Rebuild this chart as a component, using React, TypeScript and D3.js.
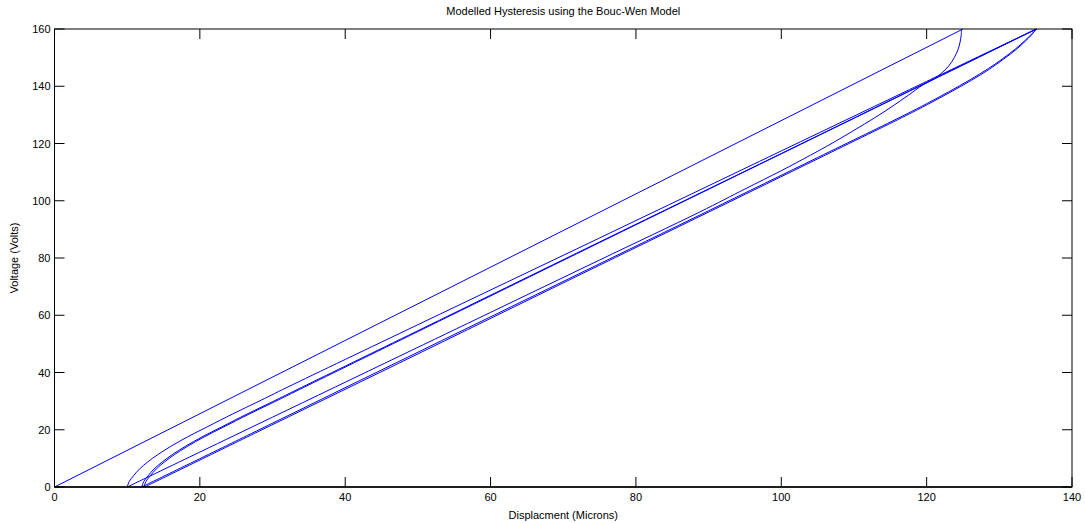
import React from "react";
import * as d3 from "d3";

const TITLE = "Modelled Hysteresis using the Bouc-Wen Model";
const X_LABEL = "Displacment (Microns)";
const Y_LABEL = "Voltage (Volts)";
const xTicks = [0, 20, 40, 60, 80, 100, 120, 140];
const yTicks = [0, 20, 40, 60, 80, 100, 120, 140, 160];

type P = [number, number];

// initial loading branch
const load1: P[] = [[0, 0], [125, 160]];

// first unloading branch
const unload1: P[] = [
  [124.8, 160], [124.75, 157.8], [124.6, 155.4], [124.3, 152.7], [123.8, 150],
  [123.1, 147.3], [122.2, 144.9], [121.0, 142.6], [119.5, 140.5], [117.5, 136.9],
  [115.4, 133.2], [112.8, 128.9], [110, 124.6], [107, 120.1], [104, 115.9],
  [100, 110.5], [95, 104.1], [88.8, 96.1], [75, 79.3], [60, 61], [47.5, 45.75],
  [30, 24.4], [20, 12.2], [10, 0],
];

// loading branches
const load2: P[] = [
  [10, 0], [10.3, 2], [10.9, 4], [11.7, 6.3], [12.8, 8.7], [14.2, 11.3], [16, 14.2],
  [18.3, 17.5], [21, 21], [24.5, 25.5], [28, 29.8], [32, 34.8], [50, 56.7],
  [75, 87.0], [100, 117.4], [120, 141.7], [135.1, 160],
];
const load3: P[] = [
  [12, 0], [12.3, 2], [12.9, 4], [13.7, 6.3], [14.8, 8.7], [16.2, 11.3], [18, 14.2],
  [20.3, 17.5], [23, 21], [26.5, 25.5], [30, 29.8], [34, 34.8], [50, 54.6],
  [75, 85.6], [100, 116.5], [120, 141.3], [135.1, 160],
];
const load4: P[] = [
  [12.3, 0], [12.6, 2], [13.2, 4], [14, 6.3], [15.1, 8.7], [16.5, 11.3], [18.3, 14.2],
  [20.6, 17.5], [23.3, 21], [26.8, 25.5], [30.3, 29.8], [34.3, 34.8], [50, 54.3],
  [75, 85.4], [100, 116.4], [120, 141.2], [135.1, 160],
];

// later unloading branches
const unload2: P[] = [
  [135.1, 160], [134.4, 158.1], [133.5, 155.9], [132.2, 153], [130.5, 149.7],
  [128.5, 146.2], [126, 142.3], [123, 138], [120, 133.9], [117, 130],
  [105, 115.1], [90, 96.5], [72.1, 74.4], [47.1, 43.5], [27.1, 18.7], [12, 0],
];
const unload3: P[] = [
  [135.1, 160], [134.45, 158.0], [133.6, 155.8], [132.3, 152.8], [130.6, 149.5],
  [128.6, 145.9], [126.1, 142.0], [123.1, 137.7], [120.1, 133.6], [117.2, 129.8],
  [105.3, 115.0], [90.3, 96.4], [72.5, 74.4], [47.5, 43.4], [27.5, 18.7], [12.4, 0],
];

const branches: P[][] = [load1, unload1, load2, unload2, load3, unload3, load4];

const W = 1085;
const H = 523;
const LEFT = 54.5;
const RIGHT = 1072;
const TOP = 29;
const BOTTOM = 487;
const TICK = 10;
const FONT = "'Liberation Sans', Arial, Helvetica, sans-serif";

export default function App() {
  const x = d3.scaleLinear().domain([0, 140]).range([LEFT, RIGHT]);
  const y = d3.scaleLinear().domain([0, 160]).range([BOTTOM, TOP]);
  const line = d3
    .line<P>()
    .x((d) => x(d[0]))
    .y((d) => y(d[1]))
    .curve(d3.curveCatmullRom.alpha(0.5));

  return (
    <svg
      width={W}
      height={H}
      style={{ position: "absolute", left: 0, top: 0, background: "#fff" }}
      fontFamily={FONT}
    >
      <rect x={0} y={0} width={W} height={H} fill="#fff" />
      <rect x={LEFT} y={TOP} width={RIGHT - LEFT} height={BOTTOM - TOP} fill="#fff" />
      <g>
        {branches.map((b, i) => (
          <path key={i} d={line(b) || ""} fill="none" stroke="#0000ff" strokeWidth={1} />
        ))}
      </g>
      <rect
        x={LEFT}
        y={TOP}
        width={RIGHT - LEFT}
        height={BOTTOM - TOP}
        fill="none"
        stroke="#000"
        strokeWidth={1}
      />
      <line x1={LEFT} x2={RIGHT} y1={BOTTOM} y2={BOTTOM} stroke="#000" strokeWidth={1.6} />
      {xTicks.map((t) => (
        <g key={"x" + t}>
          <line x1={x(t)} x2={x(t)} y1={BOTTOM} y2={BOTTOM - TICK} stroke="#000" />
          <line x1={x(t)} x2={x(t)} y1={TOP} y2={TOP + TICK} stroke="#000" />
          <text x={x(t)} y={BOTTOM + 14} fontSize={11} textAnchor="middle" fill="#000">
            {t}
          </text>
        </g>
      ))}
      {yTicks.map((t) => (
        <g key={"y" + t}>
          <line x1={LEFT} x2={LEFT + TICK} y1={y(t)} y2={y(t)} stroke="#000" />
          <line x1={RIGHT} x2={RIGHT - TICK} y1={y(t)} y2={y(t)} stroke="#000" />
          <text x={LEFT - 4} y={y(t) + 4} fontSize={11} textAnchor="end" fill="#000">
            {t}
          </text>
        </g>
      ))}
      <text x={(LEFT + RIGHT) / 2} y={15} fontSize={11} textAnchor="middle" fill="#000">
        {TITLE}
      </text>
      <text x={(LEFT + RIGHT) / 2} y={519} fontSize={11} textAnchor="middle" fill="#000">
        {X_LABEL}
      </text>
      <text
        transform={`translate(18, ${(TOP + BOTTOM) / 2}) rotate(-90)`}
        fontSize={11}
        textAnchor="middle"
        fill="#000"
      >
        {Y_LABEL}
      </text>
    </svg>
  );
}
